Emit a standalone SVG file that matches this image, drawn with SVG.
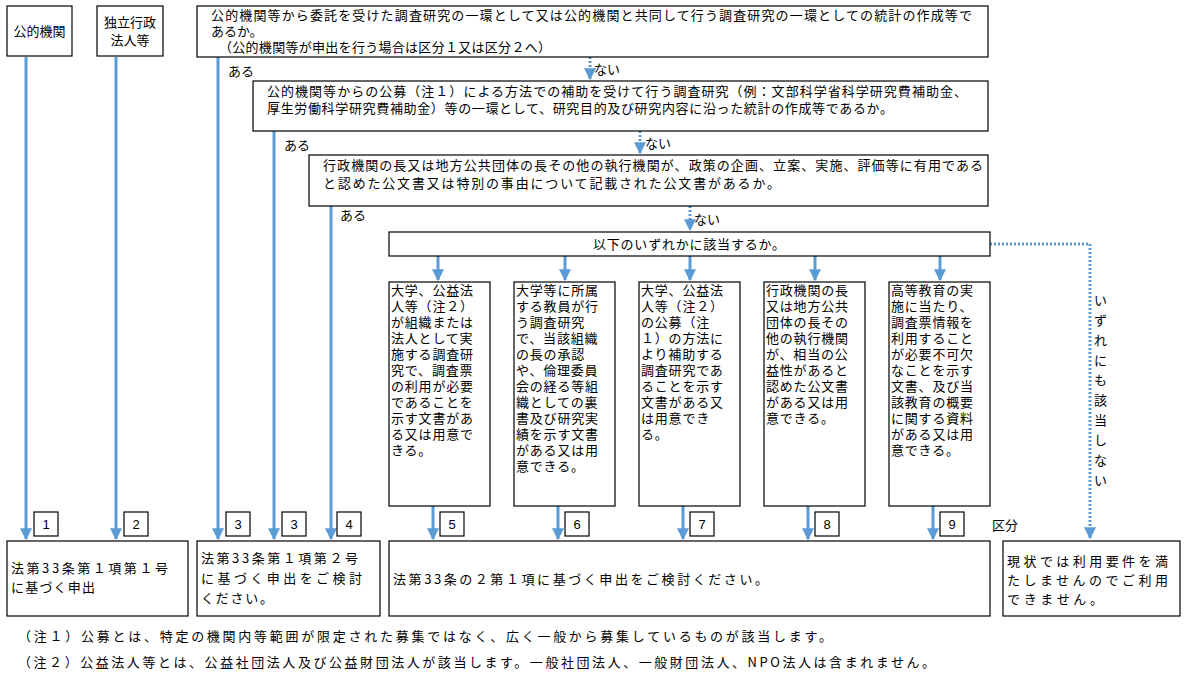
<svg xmlns="http://www.w3.org/2000/svg" width="1186" height="682" viewBox="0 0 1186 682">
<style>
text{font-family:"Noto Sans CJK JP","Noto Sans CJK SC",sans-serif;font-size:13px;fill:#000}
.c{letter-spacing:0.8px}
.b{fill:#fff;stroke:#000;stroke-width:1.2}
.l{stroke:#5b9bd5;stroke-width:3;fill:none}
.d{stroke:#5b9bd5;stroke-width:3;fill:none;stroke-dasharray:2,2}
.n{font-family:"Liberation Sans",sans-serif;font-size:13px;text-anchor:middle}
</style>
<defs>
<marker id="m" viewBox="0 0 10 10" refX="9" refY="5" markerWidth="4" markerHeight="4" orient="auto" markerUnits="strokeWidth"><path d="M0,0 L10,5 L0,10 z" fill="#5b9bd5"/></marker>
</defs>
<g id="connectors">
<line class="l" x1="26" y1="57" x2="26" y2="539" marker-end="url(#m)"/>
<line class="l" x1="116" y1="57" x2="116" y2="539" marker-end="url(#m)"/>
<line class="l" x1="218" y1="57" x2="218" y2="539" marker-end="url(#m)"/>
<line class="l" x1="274" y1="131" x2="274" y2="539" marker-end="url(#m)"/>
<line class="l" x1="331" y1="206" x2="331" y2="539" marker-end="url(#m)"/>
<line class="d" x1="590" y1="57" x2="590" y2="79" marker-end="url(#m)"/>
<line class="d" x1="640" y1="131" x2="640" y2="153" marker-end="url(#m)"/>
<line class="d" x1="690" y1="206" x2="690" y2="230" marker-end="url(#m)"/>
<polyline class="d" points="990,244 1090,244 1090,538" marker-end="url(#m)"/>
<line class="l" x1="438" y1="256" x2="438" y2="280" marker-end="url(#m)"/>
<line class="l" x1="565" y1="256" x2="565" y2="280" marker-end="url(#m)"/>
<line class="l" x1="690" y1="256" x2="690" y2="280" marker-end="url(#m)"/>
<line class="l" x1="815" y1="256" x2="815" y2="280" marker-end="url(#m)"/>
<line class="l" x1="940" y1="256" x2="940" y2="280" marker-end="url(#m)"/>
<line class="l" x1="433" y1="506" x2="433" y2="539" marker-end="url(#m)"/>
<line class="l" x1="558" y1="506" x2="558" y2="539" marker-end="url(#m)"/>
<line class="l" x1="683" y1="506" x2="683" y2="539" marker-end="url(#m)"/>
<line class="l" x1="808" y1="506" x2="808" y2="539" marker-end="url(#m)"/>
<line class="l" x1="933" y1="506" x2="933" y2="539" marker-end="url(#m)"/>
<text x="228" y="76">ある</text>
<text x="284" y="150">ある</text>
<text x="340" y="220">ある</text>
<text x="594" y="74">ない</text>
<text x="645" y="148">ない</text>
<text x="694" y="224">ない</text>
<g><text x="1094" y="305">い</text><text x="1094" y="325">ず</text><text x="1094" y="345">れ</text><text x="1094" y="365">に</text><text x="1094" y="385">も</text><text x="1094" y="405">該</text><text x="1094" y="425">当</text><text x="1094" y="445">し</text><text x="1094" y="465">な</text><text x="1094" y="485">い</text></g>
<text x="992" y="530">区分</text>
</g>
<g id="n1"><rect class="b" x="7" y="6" width="65" height="50"/><text x="39.5" y="36" text-anchor="middle">公的機関</text></g>
<g id="n2"><rect class="b" x="97" y="6" width="66" height="50"/><text x="130" y="27" text-anchor="middle">独立行政</text><text x="130" y="45" text-anchor="middle">法人等</text></g>
<g id="q1"><rect class="b" x="197" y="6" width="791" height="51"/><text x="211" y="20" textLength="761">公的機関等から委託を受けた調査研究の一環として又は公的機関と共同して行う調査研究の一環としての統計の作成等で</text><text x="211" y="36">あるか。</text><text x="219" y="52" textLength="332">（公的機関等が申出を行う場合は区分１又は区分２へ）</text></g>
<g id="q2"><rect class="b" x="253" y="81" width="735" height="50"/><text x="267" y="96" textLength="700">公的機関等からの公募（注１）による方法での補助を受けて行う調査研究（例：文部科学省科学研究費補助金、</text><text x="267" y="113" textLength="626">厚生労働科学研究費補助金）等の一環として、研究目的及び研究内容に沿った統計の作成等であるか。</text></g>
<g id="q3"><rect class="b" x="309" y="155" width="679" height="51"/><text x="323" y="170" textLength="660">行政機関の長又は地方公共団体の長その他の執行機関が、政策の企画、立案、実施、評価等に有用である</text><text x="323" y="188" textLength="457">と認めた公文書又は特別の事由について記載された公文書があるか。</text></g>
<g id="q4"><rect class="b" x="389" y="232" width="601" height="24"/><text x="689" y="249" text-anchor="middle" textLength="192">以下のいずれかに該当するか。</text></g>
<g id="c5" class="c"><rect class="b" x="389" y="282" width="101" height="224"/><text x="391" y="295"><tspan x="391">大学、公益法</tspan><tspan x="391" dy="16">人等（注２）</tspan><tspan x="391" dy="16">が組織または</tspan><tspan x="391" dy="16">法人として実</tspan><tspan x="391" dy="16">施する調査研</tspan><tspan x="391" dy="16">究で、調査票</tspan><tspan x="391" dy="16">の利用が必要</tspan><tspan x="391" dy="16">であることを</tspan><tspan x="391" dy="16">示す文書があ</tspan><tspan x="391" dy="16">る又は用意で</tspan><tspan x="391" dy="16">きる。</tspan></text></g>
<g id="c6" class="c"><rect class="b" x="514" y="282" width="101" height="224"/><text x="516" y="295"><tspan x="516">大学等に所属</tspan><tspan x="516" dy="16">する教員が行</tspan><tspan x="516" dy="16">う調査研究</tspan><tspan x="516" dy="16">で、当該組織</tspan><tspan x="516" dy="16">の長の承認</tspan><tspan x="516" dy="16">や、倫理委員</tspan><tspan x="516" dy="16">会の経る等組</tspan><tspan x="516" dy="16">織としての裏</tspan><tspan x="516" dy="16">書及び研究実</tspan><tspan x="516" dy="16">績を示す文書</tspan><tspan x="516" dy="16">がある又は用</tspan><tspan x="516" dy="16">意できる。</tspan></text></g>
<g id="c7" class="c"><rect class="b" x="639" y="282" width="101" height="224"/><text x="641" y="295"><tspan x="641">大学、公益法</tspan><tspan x="641" dy="16">人等（注２）</tspan><tspan x="641" dy="16">の公募（注</tspan><tspan x="641" dy="16">１）の方法に</tspan><tspan x="641" dy="16">より補助する</tspan><tspan x="641" dy="16">調査研究であ</tspan><tspan x="641" dy="16">ることを示す</tspan><tspan x="641" dy="16">文書がある又</tspan><tspan x="641" dy="16">は用意でき</tspan><tspan x="641" dy="16">る。</tspan></text></g>
<g id="c8" class="c"><rect class="b" x="764" y="282" width="101" height="224"/><text x="766" y="295"><tspan x="766">行政機関の長</tspan><tspan x="766" dy="16">又は地方公共</tspan><tspan x="766" dy="16">団体の長その</tspan><tspan x="766" dy="16">他の執行機関</tspan><tspan x="766" dy="16">が、相当の公</tspan><tspan x="766" dy="16">益性があると</tspan><tspan x="766" dy="16">認めた公文書</tspan><tspan x="766" dy="16">がある又は用</tspan><tspan x="766" dy="16">意できる。</tspan></text></g>
<g id="c9" class="c"><rect class="b" x="889" y="282" width="101" height="224"/><text x="891" y="295"><tspan x="891">高等教育の実</tspan><tspan x="891" dy="16">施に当たり、</tspan><tspan x="891" dy="16">調査票情報を</tspan><tspan x="891" dy="16">利用すること</tspan><tspan x="891" dy="16">が必要不可欠</tspan><tspan x="891" dy="16">なことを示す</tspan><tspan x="891" dy="16">文書、及び当</tspan><tspan x="891" dy="16">該教育の概要</tspan><tspan x="891" dy="16">に関する資料</tspan><tspan x="891" dy="16">がある又は用</tspan><tspan x="891" dy="16">意できる。</tspan></text></g>
<g id="nums">
<rect class="b" x="34" y="512" width="24" height="24"/><text class="n" x="46" y="529">1</text>
<rect class="b" x="124" y="512" width="24" height="24"/><text class="n" x="136" y="529">2</text>
<rect class="b" x="226" y="512" width="24" height="24"/><text class="n" x="238" y="529">3</text>
<rect class="b" x="282" y="512" width="24" height="24"/><text class="n" x="294" y="529">3</text>
<rect class="b" x="337" y="512" width="24" height="24"/><text class="n" x="349" y="529">4</text>
<rect class="b" x="440" y="512" width="24" height="24"/><text class="n" x="452" y="529">5</text>
<rect class="b" x="565" y="512" width="24" height="24"/><text class="n" x="577" y="529">6</text>
<rect class="b" x="690" y="512" width="24" height="24"/><text class="n" x="702" y="529">7</text>
<rect class="b" x="815" y="512" width="24" height="24"/><text class="n" x="827" y="529">8</text>
<rect class="b" x="940" y="512" width="24" height="24"/><text class="n" x="952" y="529">9</text>
</g>
<g id="r1"><rect class="b" x="7" y="541" width="181" height="75"/><text x="11" y="573" textLength="157">法第33条第１項第１号</text><text x="11" y="592" textLength="84">に基づく申出</text></g>
<g id="r2"><rect class="b" x="197" y="541" width="183" height="75"/><text x="201" y="563" textLength="157">法第33条第１項第２号</text><text x="201" y="583" textLength="161">に基づく申出をご検討</text><text x="201" y="603" textLength="72">ください。</text></g>
<g id="r3"><rect class="b" x="389" y="541" width="601" height="75"/><text x="393" y="584" textLength="375">法第33条の２第１項に基づく申出をご検討ください。</text></g>
<g id="r4"><rect class="b" x="1003" y="541" width="177" height="75"/><text x="1007" y="566" textLength="161">現状では利用要件を満</text><text x="1007" y="585" textLength="161">たしませんのでご利用</text><text x="1007" y="604" textLength="96">できません。</text></g>
<g id="notes">
<text x="18" y="641" textLength="814">（注１）公募とは、特定の機関内等範囲が限定された募集ではなく、広く一般から募集しているものが該当します。</text>
<text x="18" y="667" textLength="917">（注２）公益法人等とは、公益社団法人及び公益財団法人が該当します。一般社団法人、一般財団法人、NPO法人は含まれません。</text>
</g>
</svg>
